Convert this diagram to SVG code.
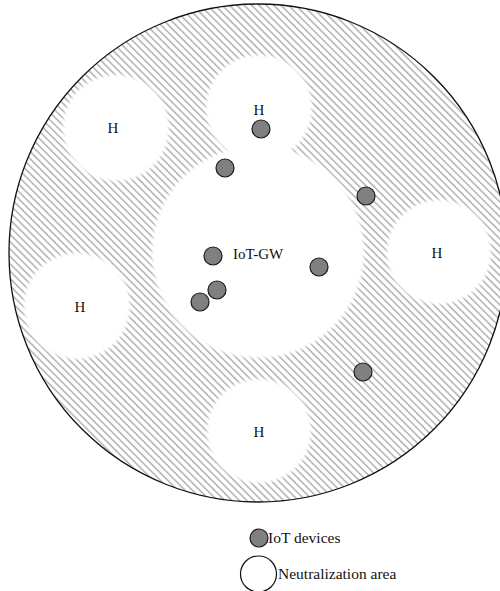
<svg xmlns="http://www.w3.org/2000/svg" width="500" height="591" viewBox="0 0 500 591">
<style>
text{font-family:"Liberation Serif","Times New Roman",serif;font-size:15px;fill:#111}
.lg{font-size:15.5px}
.dev{fill:#808080;stroke:#1a1a1a;stroke-width:1.2}
.na{fill:#fff;filter:url(#soft)}
</style>
<defs>
<pattern id="hatch" patternUnits="userSpaceOnUse" width="5.2" height="10" patternTransform="rotate(-45)">
<line x1="2.6" y1="-1" x2="2.6" y2="11" stroke="#6a6a6a" stroke-width="0.85"/>
</pattern>
<filter id="soft" x="-20%" y="-20%" width="140%" height="140%"><feGaussianBlur stdDeviation="1.5"/></filter>
<clipPath id="big"><circle cx="258" cy="253" r="248.5"/></clipPath>
</defs>
<rect width="500" height="591" fill="#fff"/>
<g id="area">
<circle cx="258" cy="253" r="249" fill="url(#hatch)"/>
<g clip-path="url(#big)">
<circle class="na" cx="116" cy="128" r="53"/>
<circle class="na" cx="259" cy="108" r="53"/>
<circle class="na" cx="439" cy="252" r="52"/>
<circle class="na" cx="77" cy="306" r="53"/>
<circle class="na" cx="259" cy="431" r="52"/>
<circle class="na" cx="258" cy="252" r="106"/>
</g>
<circle cx="258" cy="253" r="249" fill="none" stroke="#111" stroke-width="1.3"/>
</g>
<g id="labels">
<text x="113" y="133" text-anchor="middle">H</text>
<text x="259" y="115" text-anchor="middle">H</text>
<text x="437" y="258" text-anchor="middle">H</text>
<text x="80" y="312" text-anchor="middle">H</text>
<text x="259" y="437" text-anchor="middle">H</text>
<text x="233" y="259">IoT-GW</text>
</g>
<g id="devices">
<circle class="dev" cx="261" cy="129" r="9"/>
<circle class="dev" cx="225" cy="168" r="9"/>
<circle class="dev" cx="366" cy="196" r="9"/>
<circle class="dev" cx="213" cy="256" r="9"/>
<circle class="dev" cx="319" cy="267" r="9"/>
<circle class="dev" cx="217" cy="290" r="9"/>
<circle class="dev" cx="200" cy="302" r="9"/>
<circle class="dev" cx="363" cy="372" r="9"/>
</g>
<g id="legend">
<circle class="dev" cx="259" cy="538" r="9"/>
<text class="lg" x="268" y="543">IoT devices</text>
<circle cx="258.5" cy="574" r="18" fill="#fff" stroke="#111" stroke-width="1.2"/>
<text class="lg" x="278" y="579">Neutralization area</text>
</g>
</svg>
